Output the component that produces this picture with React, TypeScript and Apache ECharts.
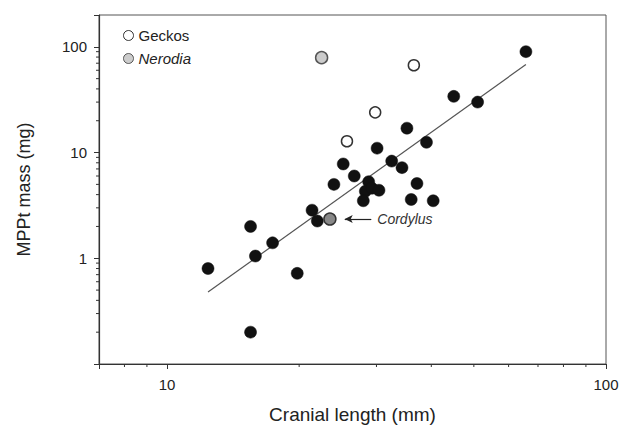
import React, { useEffect, useRef } from "react";
import * as echarts from "echarts";

const X_MIN = 7;
const X_MAX = 100;
const Y_MIN = 0.1;
const Y_MAX = 200;

// Other taxa (filled black)
const otherX = [12.4, 15.5, 15.5, 15.9, 17.4, 19.8, 21.4, 22.0, 24.0, 25.2, 26.7, 28.8, 28.3, 29.3, 30.4, 28.0, 30.1, 32.5, 34.3, 35.2, 37.1, 36.0, 40.4, 39.0, 45.0, 51.0, 65.7];
const otherY = [0.8, 2.0, 0.2, 1.05, 1.4, 0.72, 2.85, 2.25, 5.0, 7.8, 6.0, 5.3, 4.3, 4.6, 4.4, 3.5, 11.0, 8.3, 7.2, 17.0, 5.1, 3.6, 3.5, 12.5, 34.0, 30.0, 90.0];

const geckoX = [25.7, 29.8, 36.5];
const geckoY = [12.8, 24.0, 67.0];

const nerodiaX = [22.5];
const nerodiaY = [79.0];

const cordylusX = [23.5];
const cordylusY = [2.35];

// regression line end points
const fitX = [12.4, 65.7];
const fitY = [0.48, 68.0];

// annotation arrow (tail -> head)
const arrowX = [29.2, 25.4];
const arrowY = [2.35, 2.35];

const xMinorTicks = [8, 9, 20, 30, 40, 50, 60, 70, 80, 90];
const yMinorTicks = [0.2, 0.3, 0.4, 0.5, 0.6, 0.7, 0.8, 0.9, 2, 3, 4, 5, 6, 7, 8, 9, 20, 30, 40, 50, 60, 70, 80, 90];

const xLabels = [10, 100];
const yLabels = [1, 10, 100];

const FONT = "Liberation Sans, Arial, sans-serif";
const zip = (a: number[], b: number[]) => a.map((v, i) => [v, b[i]]);

const isLabel = (v: number, list: number[]) =>
  list.some((l) => Math.abs(Math.log10(v) - Math.log10(l)) < 1e-6);

export default function App() {
  const ref = useRef<HTMLDivElement>(null);
  useEffect(() => {
    if (!ref.current) return;
    const chart = echarts.init(ref.current, null, { renderer: "svg" });
    const option: any = {
      animation: false,
      backgroundColor: "#ffffff",
      textStyle: { fontFamily: FONT },
      grid: {
        left: 99,
        right: 21,
        top: 15,
        bottom: 60,
        show: true,
        borderColor: "#555",
        borderWidth: 1,
      },
      legend: {
        orient: "vertical",
        left: 118,
        top: 23,
        padding: 5,
        itemWidth: 10,
        itemHeight: 10,
        itemGap: 8,
        icon: "circle",
        data: ["Geckos", "Nerodia"],
        selectedMode: false,
        itemStyle: { borderWidth: 1 },
        formatter: (name: string) => (name === "Nerodia" ? "{i|Nerodia}" : name),
        textStyle: {
          fontFamily: FONT,
          fontSize: 15,
          color: "#222",
          rich: { i: { fontStyle: "italic", fontSize: 15, fontFamily: FONT, color: "#222" } },
        },
      },
      xAxis: {
        type: "log",
        logBase: 10,
        min: X_MIN,
        max: X_MAX,
        name: "Cranial length (mm)",
        nameLocation: "middle",
        nameGap: 41,
        nameTextStyle: { fontSize: 19, color: "#222", fontFamily: FONT },
        axisLine: { show: true, lineStyle: { color: "#333", width: 1.2 } },
        axisTick: { show: true, length: 5, lineStyle: { color: "#333" } },
        axisLabel: {
          fontSize: 15,
          color: "#222",
          margin: 13,
          fontFamily: FONT,
          formatter: (v: number) => (isLabel(v, xLabels) ? String(Math.round(v)) : ""),
        },
        splitLine: { show: false },
      },
      yAxis: {
        type: "log",
        logBase: 10,
        min: Y_MIN,
        max: Y_MAX,
        name: "MPPt mass (mg)",
        nameLocation: "middle",
        nameGap: 66,
        nameTextStyle: { fontSize: 18, color: "#222", fontFamily: FONT },
        axisLine: { show: true, lineStyle: { color: "#333", width: 1.2 } },
        axisTick: { show: true, length: 5, lineStyle: { color: "#333" } },
        axisLabel: {
          fontSize: 15,
          color: "#222",
          margin: 12,
          fontFamily: FONT,
          formatter: (v: number) => (isLabel(v, yLabels) ? String(Math.round(v)) : ""),
        },
        splitLine: { show: false },
      },
      series: [
        {
          type: "custom",
          name: "xminor",
          silent: true,
          clip: false,
          data: xMinorTicks.map((v) => [v, Y_MIN]),
          renderItem: (params: any, api: any) => {
            const p = api.coord([api.value(0), api.value(1)]);
            return {
              type: "line",
              shape: { x1: p[0], y1: p[1], x2: p[0], y2: p[1] + 3 },
              style: { stroke: "#333", lineWidth: 1 },
            };
          },
        },
        {
          type: "custom",
          name: "yminor",
          silent: true,
          clip: false,
          data: yMinorTicks.map((v) => [X_MIN, v]),
          renderItem: (params: any, api: any) => {
            const p = api.coord([api.value(0), api.value(1)]);
            return {
              type: "line",
              shape: { x1: p[0] - 3, y1: p[1], x2: p[0], y2: p[1] },
              style: { stroke: "#333", lineWidth: 1 },
            };
          },
        },
        {
          type: "line",
          name: "fit",
          data: zip(fitX, fitY),
          symbol: "none",
          silent: true,
          lineStyle: { color: "#555", width: 1.2 },
          z: 1,
        },
        {
          type: "scatter",
          name: "Other",
          data: zip(otherX, otherY),
          symbol: "circle",
          symbolSize: 12,
          itemStyle: { color: "#111", borderColor: "#111", borderWidth: 0.5, opacity: 1 },
          z: 3,
        },
        {
          type: "scatter",
          name: "Geckos",
          data: zip(geckoX, geckoY),
          symbol: "circle",
          symbolSize: 11,
          itemStyle: { color: "#ffffff", borderColor: "#333", borderWidth: 1.5, opacity: 1 },
          z: 3,
        },
        {
          type: "scatter",
          name: "Nerodia",
          data: zip(nerodiaX, nerodiaY),
          symbol: "circle",
          symbolSize: 12,
          itemStyle: { color: "#cccccc", borderColor: "#555", borderWidth: 1.5, opacity: 1 },
          z: 3,
        },
        {
          type: "scatter",
          name: "Cordylus",
          data: zip(cordylusX, cordylusY),
          symbol: "circle",
          symbolSize: 12,
          itemStyle: { color: "#888888", borderColor: "#333", borderWidth: 1.5, opacity: 1 },
          z: 3,
          markLine: {
            silent: true,
            animation: false,
            symbol: ["none", "arrow"],
            symbolSize: [6, 8],
            lineStyle: { color: "#222", width: 1.2, type: "solid" },
            label: {
              show: true,
              position: "start",
              distance: 6,
              formatter: "Cordylus",
              fontStyle: "italic",
              fontSize: 14,
              color: "#333",
              fontFamily: FONT,
            },
            data: [
              [
                { coord: [arrowX[0], arrowY[0]] },
                { coord: [arrowX[1], arrowY[1]] },
              ],
            ],
          },
        },
      ],
    };
    chart.setOption(option);
    return () => chart.dispose();
  }, []);
  return (
    <div
      ref={ref}
      style={{ position: "fixed", left: 0, top: 0, width: 627, height: 429, background: "#fff" }}
    />
  );
}
